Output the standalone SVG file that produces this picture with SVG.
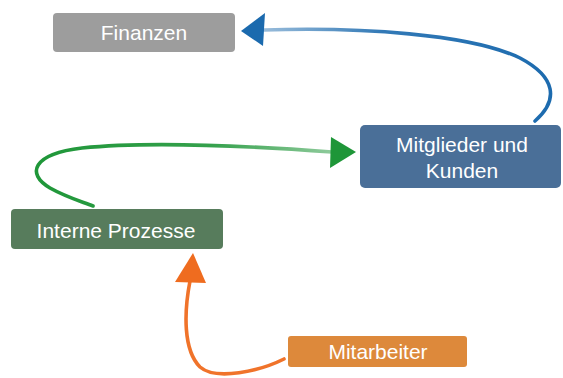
<svg xmlns="http://www.w3.org/2000/svg" width="563" height="378" viewBox="0 0 563 378">
<style>
.lbl{font-family:"Liberation Sans",Arial,sans-serif;font-size:21px;fill:#ffffff;text-anchor:middle}
.stroke{fill:none;stroke-linecap:round;stroke-linejoin:round}
</style>
<defs>
<linearGradient id="gb" gradientUnits="userSpaceOnUse" x1="264" y1="0" x2="560" y2="0">
<stop offset="0" stop-color="#1b6aae" stop-opacity="0.45"/>
<stop offset="0.4" stop-color="#1b6aae" stop-opacity="0.9"/>
<stop offset="1" stop-color="#1b6aae" stop-opacity="1"/>
</linearGradient>
<linearGradient id="gg" gradientUnits="userSpaceOnUse" x1="332" y1="0" x2="30" y2="0">
<stop offset="0" stop-color="#1e9638" stop-opacity="0.5"/>
<stop offset="0.4" stop-color="#1e9638" stop-opacity="0.9"/>
<stop offset="1" stop-color="#1e9638" stop-opacity="1"/>
</linearGradient>
</defs>
<rect width="563" height="378" fill="#ffffff"/>
<g id="connectors">
<path class="stroke" d="M264,30 C360,27 470,34 520,58 C556,77 559,100 535,121" stroke="url(#gb)" stroke-width="3.6"/>
<polygon points="241,31 265,13 263,46" fill="#1b6aae"/>
<path class="stroke" d="M332,152 C250,146 150,141 82,148 C32,154 26,174 50,188 C66,197 80,201 93,206" stroke="url(#gg)" stroke-width="3.6"/>
<polygon points="356,152 331,137 330,168" fill="#1e9638"/>
<path class="stroke" d="M190,281 C184,312 183,350 200,367 C216,381 260,371 284,359" stroke="#ef6c1f" stroke-width="3.6" opacity="0.95"/>
<polygon points="193,253 175,282 206,283" fill="#ef6c1f"/>
</g>
<g id="finanzen">
<rect x="53" y="13" width="182" height="39" rx="4" fill="#9d9d9d"/>
<text class="lbl" x="144" y="40">Finanzen</text>
</g>
<g id="mitglieder">
<rect x="360" y="125" width="201" height="63" rx="5" fill="#4a6f98"/>
<text class="lbl" x="462" y="152">Mitglieder und</text>
<text class="lbl" x="462" y="178">Kunden</text>
</g>
<g id="interne">
<rect x="11" y="209" width="212" height="40" rx="4" fill="#577c5c"/>
<text class="lbl" x="116" y="238">Interne Prozesse</text>
</g>
<g id="mitarbeiter">
<rect x="288" y="336" width="179" height="31" rx="3" fill="#dd893b"/>
<text class="lbl" x="378" y="359">Mitarbeiter</text>
</g>
</svg>
